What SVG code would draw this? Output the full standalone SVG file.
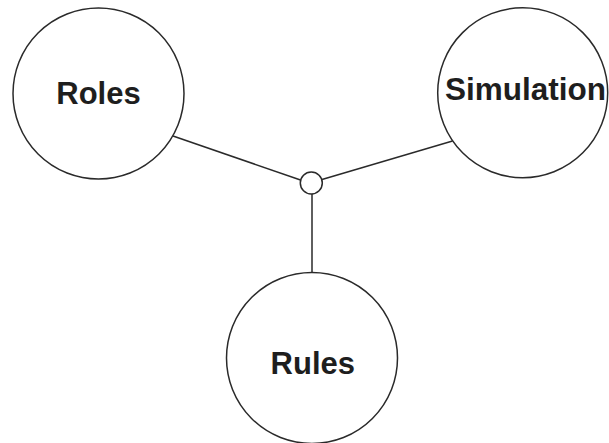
<svg xmlns="http://www.w3.org/2000/svg" width="609" height="443" viewBox="0 0 609 443">
  <style>
    .node { fill: #ffffff; stroke: #2a2a2a; stroke-width: 1.5; }
    .hub { fill: #ffffff; stroke: #2a2a2a; stroke-width: 1.5; }
    .link { stroke: #2a2a2a; stroke-width: 1.5; fill: none; }
    .label { font-family: "Liberation Sans", Arial, sans-serif; font-weight: bold; font-size: 31px; fill: #1e1e1e; text-anchor: middle; }
  </style>
  <rect width="609" height="443" fill="#ffffff"/>
  <!-- connectors meeting at the hub -->
  <g id="connectors">
    <line class="link" x1="173" y1="136" x2="300.5" y2="180"/>
    <line class="link" x1="452.5" y1="141" x2="322" y2="179.5"/>
    <line class="link" x1="312" y1="194" x2="312" y2="272.5"/>
  </g>
  <g id="hub">
    <circle class="hub" cx="311.3" cy="183" r="11"/>
  </g>
  <g id="roles">
    <circle class="node" cx="98.5" cy="93.5" r="85.5"/>
    <text class="label" x="98.5" y="104">Roles</text>
  </g>
  <g id="simulation">
    <circle class="node" cx="522.7" cy="92.7" r="85"/>
    <text class="label" x="525.5" y="100" style="font-size:31.5px">Simulation</text>
  </g>
  <g id="rules">
    <circle class="node" cx="312" cy="358" r="85.5"/>
    <text class="label" x="312.8" y="374">Rules</text>
  </g>
</svg>
